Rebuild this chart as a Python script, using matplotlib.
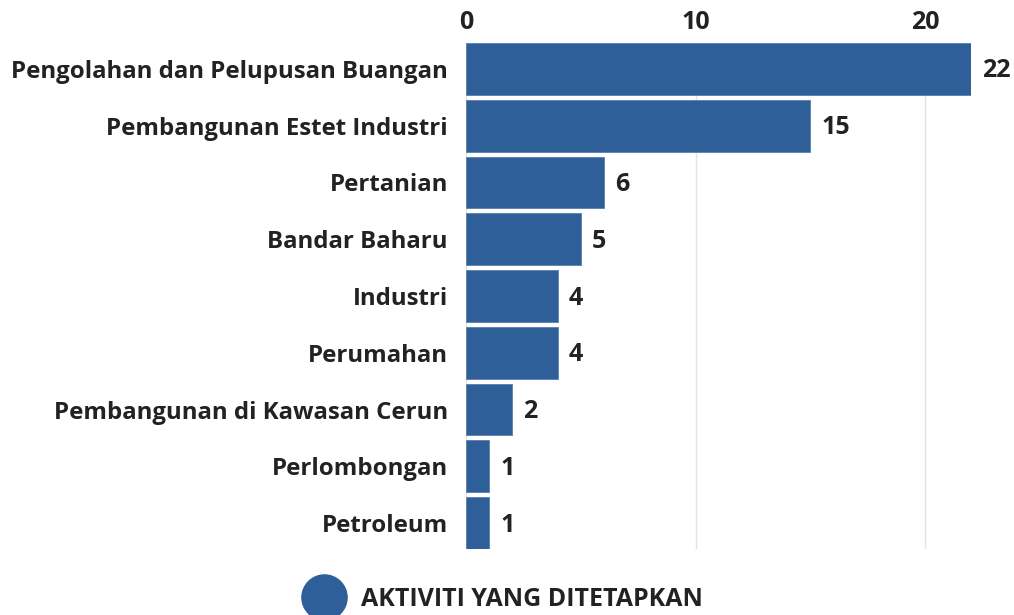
import matplotlib
matplotlib.use("Agg")
import matplotlib.pyplot as plt
from matplotlib.lines import Line2D

categories = ["Pengolahan dan Pelupusan Buangan", "Pembangunan Estet Industri", "Pertanian",
              "Bandar Baharu", "Industri", "Perumahan", "Pembangunan di Kawasan Cerun",
              "Perlombongan", "Petroleum"]
values = [22, 15, 6, 5, 4, 4, 2, 1, 1]
ticks = [0, 10, 20]
series_name = "AKTIVITI YANG DITETAPKAN"

BAR = "#2E5F98"
TXT = "#222222"
plt.rcParams['font.family'] = ['Open Sans', 'DejaVu Sans']
plt.rcParams['font.weight'] = 'bold'

fig = plt.figure(figsize=(10.14, 6.15), dpi=100)
ax = fig.add_axes([466/1014, 1 - 549/615, (971-466)/1014, (549-43)/615])

y = list(range(len(categories)))
ax.barh(y, values, height=0.912, color=BAR, edgecolor="#5a7fb0", linewidth=0.6, zorder=3)
ax.set_ylim(len(categories) - 1 + 0.456, -0.456)
ax.set_xlim(0, 22)
ax.set_xticks(ticks)
ax.xaxis.tick_top()
ax.tick_params(axis='x', length=0, pad=5.5, labelsize=18, labelcolor=TXT)
ax.tick_params(axis='y', length=0, pad=13, labelsize=17.3, labelcolor=TXT)
ax.set_yticks(y)
ax.set_yticklabels(categories)
for lab in ax.get_xticklabels() + ax.get_yticklabels():
    lab.set_fontweight('bold')
ax.grid(axis='x', color="#e3e3e3", linewidth=1, zorder=0)
for s in ax.spines.values():
    s.set_visible(False)

for yi, v in zip(y, values):
    ax.annotate(str(v), (v, yi), xytext=(8, -1.5), textcoords='offset points',
                va='center', ha='left', fontsize=18, fontweight='bold', color=TXT)

handle = Line2D([], [], marker='o', linestyle='none', markersize=32.5, color=BAR)
fig.legend([handle], [series_name], loc='center', bbox_to_anchor=(501/1014, 1 - 599/615),
           frameon=False, prop={'size': 18, 'weight': 'bold'}, labelcolor=TXT,
           handletextpad=0.45, borderaxespad=0, borderpad=0)

fig.savefig("out.png", dpi=100, facecolor="white")
